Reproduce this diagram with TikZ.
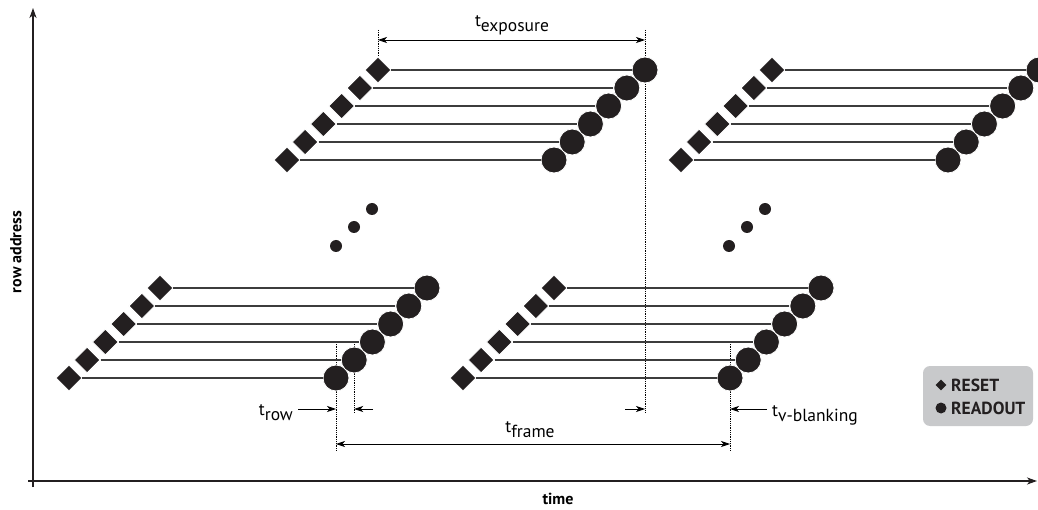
\documentclass[tikz,border=0pt]{standalone}
\usepackage{fontspec}
\setmainfont{PT Sans}
\usetikzlibrary{positioning,arrows.meta,calc,shapes.geometric,backgrounds}
\definecolor{markFill}{RGB}{35,31,32}
\definecolor{rowLine}{RGB}{60,60,60}
\definecolor{legFill}{RGB}{200,201,203}
\newcommand{\tsub}[1]{t\raisebox{-5pt}{#1}}
\tikzset{
  rst/.style={diamond, fill=markFill, draw=white, line width=0.8pt, inner sep=0pt, minimum size=26pt},
  rdo/.style={circle, fill=markFill, draw=white, line width=0.8pt, inner sep=0pt, minimum size=26pt},
  dot/.style={circle, fill=markFill, inner sep=0pt, minimum size=12pt},
  rowline/.style={draw=rowLine, line width=1.2pt},
  guide/.style={densely dotted, line width=0.8pt},
  dim/.style={-{Stealth[length=9pt,width=6pt,inset=2.5pt]}, line width=0.8pt},
  dimboth/.style={{Stealth[length=9pt,width=6pt,inset=2.5pt]}-{Stealth[length=9pt,width=6pt,inset=2.5pt]}, line width=0.8pt},
  axis/.style={-{Stealth[length=10pt,width=7pt,inset=3pt]}, line width=1.8pt, draw=markFill},
  lbl/.style={font=\fontsize{17.5}{20}\selectfont, inner sep=0pt},
  axlbl/.style={font=\bfseries\fontsize{16}{19}\selectfont, inner sep=0pt},
  legbox/.style={rectangle, rounded corners=7pt, fill=legFill, minimum width=110pt, minimum height=60pt},
  legtxt/.style={font=\bfseries\fontsize{17.5}{20}\selectfont, inner sep=0pt, text=markFill},
}
\begin{document}
\begin{tikzpicture}[x=1pt, y=-1pt]
  \useasboundingbox (0,0) rectangle (1038,510);
  \clip (0,0) rectangle (1038,510);
  % axes
  \coordinate (ybot) at (33,487);
  \coordinate (ytop) at (33,8);
  \coordinate (xleft) at (28,481);
  \coordinate (xright) at (1037,481);
  \draw[axis] (ybot) -- (ytop);
  \draw[axis] (xleft) -- (xright);
  \node[axlbl, rotate=90] (ylab) at (16,252) {row address};
  \node[axlbl] (xlab) at (558,499) {time};
  % frames: reset diamonds and readout circles
  \foreach \b/\x/\y in {1/69/378, 2/463/378, 3/287/160, 4/681/160} {
    \foreach \r in {0,...,5} {
      \node[rst] (rs-\b-\r) at ({\x+18.2*\r},{\y-18*\r}) {};
      \node[rdo] (ro-\b-\r) at ({\x+267+18.2*\r},{\y-18*\r}) {};
      \draw[rowline] (rs-\b-\r) -- (ro-\b-\r);
    }
  }
  % ellipsis
  \foreach \x [count=\i] in {336,729} {
    \node[dot] (el-\i-a) at (\x,246) {};
    \node[dot] (el-\i-b) at (\x+18,227) {};
    \node[dot] (el-\i-c) at (\x+36,209) {};
  }
  % guides
  \coordinate (guidetop) at (0,30);
  \coordinate (guidemid) at (0,413);
  \coordinate (guidelow) at (0,451);
  \begin{scope}[on background layer]
    \draw[guide] (rs-3-5 |- guidetop) -- (rs-3-5);
    \draw[guide] (ro-3-5 |- guidetop) -- (ro-3-5 |- guidemid);
    \draw[guide] (ro-1-0 |- rs-1-2) -- (ro-1-0 |- guidelow);
    \draw[guide] (ro-1-1 |- rs-1-2) -- (ro-1-1 |- guidemid);
    \draw[guide] (ro-2-0 |- rs-2-2) -- (ro-2-0 |- guidelow);
  \end{scope}
  % timings
  \coordinate (expy) at (0,40);
  \coordinate (rowy) at (0,409);
  \coordinate (frmy) at (0,444);
  \node[lbl, anchor=base] (texp) at (512,27) {\tsub{exposure}};
  \draw[dimboth] (rs-3-5 |- expy) -- (ro-3-5 |- expy);
  \node[lbl, anchor=base east] (trow) at (293,415) {\tsub{row}};
  \draw[dim] ([xshift=5pt]trow.east |- rowy) -- (ro-1-0 |- rowy);
  \coordinate (rowtail) at (373,409);
  \draw[dim] (rowtail) -- (ro-1-1 |- rowy);
  \node[lbl, anchor=base] (tfrm) at (530,432) {\tsub{frame}};
  \draw[dimboth] (ro-1-0 |- frmy) -- (ro-2-0 |- frmy);
  \coordinate (vbtail) at (625,409);
  \draw[dim] (vbtail) -- (ro-3-5 |- rowy);
  \node[lbl, anchor=base west] (tvb) at (772,416) {\tsub{v-blanking}};
  \draw[dim] ([xshift=-5pt]tvb.west |- rowy) -- (ro-2-0 |- rowy);
  % legend
  \node[legbox] (leg) at (978,396) {};
  \node[rst, draw=none, minimum size=11pt] (leg-rs) at (941,385) {};
  \node[legtxt, anchor=west] (leg-rst) at (951,385) {RESET};
  \node[rdo, draw=none, minimum size=11pt] (leg-ro) at (941,408) {};
  \node[legtxt, anchor=west] (leg-rdt) at (951,408) {READOUT};
\end{tikzpicture}
\end{document}
